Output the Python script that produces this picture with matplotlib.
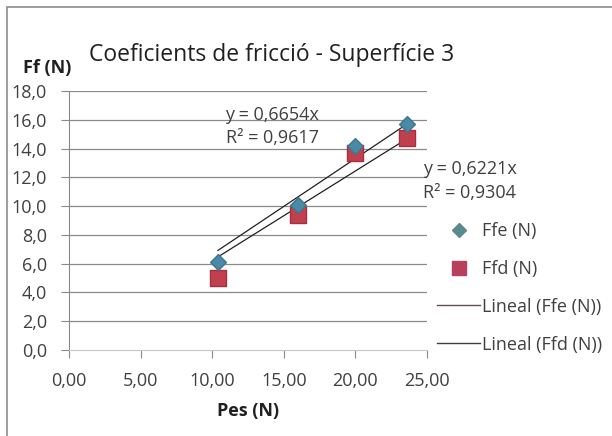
import numpy as np
import matplotlib.pyplot as plt
from matplotlib.patches import Rectangle
from matplotlib.lines import Line2D

# data
pes = [10.4, 16.0, 20.0, 23.6]
ffe = [6.1, 10.1, 14.2, 15.7]
ffd = [5.0, 9.4, 13.7, 14.7]
slope_e, r2_e = 0.6654, 0.9617
slope_d, r2_d = 0.6221, 0.9304
yticks = np.arange(0, 19, 2)
xticks = np.arange(0, 26, 5)

plt.rcParams['font.family'] = ['Open Sans', 'DejaVu Sans']
txt = '#404040'
fs = 13

fig = plt.figure(figsize=(6.12, 4.36), dpi=100)
fig.patches.append(Rectangle((7/612, -0.05), 1.0, 1 - 7/436 + 0.05, transform=fig.transFigure,
                             fill=False, edgecolor='#8c8c8c', lw=1.2))
ax = fig.add_axes([69/612, 1 - 350/436, (427 - 69)/612, (350 - 91)/436])

ax.set_xlim(0, 25)
ax.set_ylim(0, 18)
ax.set_yticks(yticks)
ax.set_yticklabels([f"{v:.1f}".replace('.', ',') for v in yticks], fontsize=fs)
ax.set_xticks(xticks)
ax.set_xticklabels([f"{v:.2f}".replace('.', ',') for v in xticks], fontsize=fs)
for v in yticks[1:]:
    ax.axhline(v, color='#8a8a8a', lw=0.9, zorder=1)
for s in ['top', 'right']:
    ax.spines[s].set_visible(False)
ax.spines['left'].set_color('#8a8a8a')
ax.spines['bottom'].set_color('#c8c8c8')
ax.tick_params(axis='both', colors='#8a8a8a', labelcolor=txt, length=6)
ax.tick_params(axis='y', pad=10)
ax.tick_params(axis='x', pad=10)

# trend lines
xl = np.array([min(pes), max(pes)])
ax.plot(xl, slope_e * xl, color='#202020', lw=0.9, zorder=2)
ax.plot(xl, slope_d * xl, color='#202020', lw=0.9, zorder=2)

ax.scatter(pes, ffd, marker='s', s=130, color='#c0404e', edgecolor='#a8303e', zorder=3)
ax.scatter(pes, ffe, marker='D', s=65, color='#4a8aa5', edgecolor='#3e7690', zorder=4)

ax.text(14.2, 16.3, f"y = {slope_e:.4f}x".replace('.', ','), ha='center', va='center', color=txt, fontsize=fs)
ax.text(14.2, 14.7, f"R² = {r2_e:.4f}".replace('.', ','), ha='center', va='center', color=txt, fontsize=fs)
ax.text(24.75, 12.6, f"y = {slope_d:.4f}x".replace('.', ','), ha='left', va='center', color=txt, fontsize=fs,
        clip_on=False)
ax.text(24.75, 10.9, f"R² = {r2_d:.4f}".replace('.', ','), ha='left', va='center', color=txt, fontsize=fs,
        clip_on=False)

fig.text(272/612, 1 - 55/436, "Coeficients de fricció - Superfície 3", ha='center', va='center',
         fontsize=16.5, color='#202020')
fig.text(47/612, 1 - 68/436, "Ff (N)", ha='center', va='center', fontsize=fs, fontweight='bold', color='#202020')
fig.text(248/612, 1 - 411/436, "Pes (N)", ha='center', va='center', fontsize=fs, fontweight='bold',
         color='#202020')

# legend
handles = [Line2D([], [], marker='D', ls='none', color='#5b8a8c', markersize=7),
           Line2D([], [], marker='s', ls='none', color='#b8405c', markersize=10),
           Line2D([], [], color='#605050', lw=1),
           Line2D([], [], color='#404040', lw=1)]
labels = ["Ffe (N)", "Ffd (N)", "Lineal (Ffe (N))", "Lineal (Ffd (N))"]
leg = fig.legend(handles, labels, loc='upper left', bbox_to_anchor=(437/612, 1 - 222/436),
                 frameon=False, fontsize=fs, labelspacing=1.1, handlelength=2.4, handletextpad=0.1,
                 borderpad=0, borderaxespad=0)
for t in leg.get_texts():
    t.set_color(txt)

fig.savefig("out.png", dpi=100)
